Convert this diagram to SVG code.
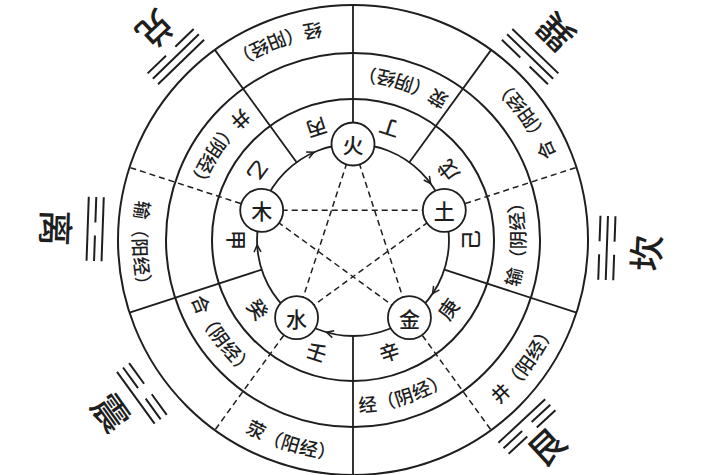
<svg xmlns="http://www.w3.org/2000/svg" width="713" height="475" viewBox="0 0 713 475">
<style>
.ln{stroke:#1e1e1e;stroke-width:1.8;fill:none}
.ring{stroke:#1e1e1e;stroke-width:2;fill:none}
.dash{stroke:#1e1e1e;stroke-width:1.5;stroke-dasharray:6 4;fill:none}
.tg{stroke:#1e1e1e;stroke-width:2;fill:none}
.t{font-family:"Noto Sans CJK SC","Noto Sans",sans-serif;fill:#1e1e1e;font-weight:500}
.el{font-size:21px;text-anchor:middle;dominant-baseline:central}
.st{font-size:20px;text-anchor:middle;dominant-baseline:central}
.rt{font-size:18.5px;dominant-baseline:central}
.gua{font-size:36px;text-anchor:middle;dominant-baseline:central}
.node{fill:#fff;stroke:#1e1e1e;stroke-width:1.8}
.ah{stroke:#1e1e1e;stroke-width:1.5;fill:none}
</style>
<defs>
<path id="ah" d="M-7,-3.5 L0,0 L-7,3.5"/>
<path id="m1" d="M350.14,76.02 A164,164 0 0 0 199.89,298.77"/>
<path id="m2" d="M509.83,192.05 A164,164 0 0 0 254.30,109.02"/>
<path id="m3" d="M447.07,374.34 A164,164 0 0 0 447.07,105.66"/>
<path id="m4" d="M254.30,370.98 A164,164 0 0 0 509.83,287.95"/>
<path id="m5" d="M197.93,186.61 A164,164 0 0 0 355.86,403.98"/>
<path id="o1" d="M471.55,64.24 A212,212 0 0 0 147.30,188.71"/>
<path id="o2" d="M552.21,312.51 A212,212 0 0 0 353,28"/>
<path id="o3" d="M349.30,451.97 A212,212 0 0 0 553.45,170.98"/>
<path id="o4" d="M151.37,305.51 A212,212 0 0 0 483.52,407.06"/>
<path id="o5" d="M225.41,70.69 A212,212 0 0 0 237.54,417.80"/>
</defs>
<rect width="713" height="475" fill="#fff"/>

<g id="rings">
<circle class="ring" cx="353" cy="240" r="235"/>
<circle class="ring" cx="353" cy="240" r="187"/>
<circle class="ring" cx="353" cy="240" r="141"/>
<circle class="ln" cx="353" cy="240" r="96"/>
</g>

<g id="connectors">
<path class="ln" d="M296.57,162.34 L214.87,49.88"/>
<path class="ln" d="M409.43,162.34 L491.13,49.88"/>
<path class="ln" d="M444.31,269.66 L576.51,312.62"/>
<path class="ln" d="M353,336 L353,475"/>
<path class="ln" d="M261.69,269.66 L129.49,312.62"/>
<path class="ln" d="M353,122 L353,5"/>
<path class="dash" d="M240.77,203.54 L129.49,167.38"/>
<path class="dash" d="M465.23,203.54 L576.51,167.38"/>
<path class="dash" d="M422.36,335.46 L491.13,430.12"/>
<path class="dash" d="M283.64,335.46 L214.87,430.12"/>
<path class="dash" d="M353,144 L409.43,317.66"/>
<path class="dash" d="M353,144 L296.57,317.66"/>
<path class="dash" d="M261.69,210.34 L444.31,210.34"/>
<path class="dash" d="M261.69,210.34 L409.43,317.66"/>
<path class="dash" d="M444.31,210.34 L296.57,317.66"/>
<use href="#ah" class="ah" transform="translate(313.95,152.30) rotate(-24)"/>
<use href="#ah" class="ah" transform="translate(430.67,183.57) rotate(54)"/>
<use href="#ah" class="ah" transform="translate(432.59,293.68) rotate(124)"/>
<use href="#ah" class="ah" transform="translate(326.54,332.28) rotate(196)"/>
<use href="#ah" class="ah" transform="translate(257.13,245.02) rotate(267)"/>
</g>

<g id="node-huo"><circle class="node" cx="353" cy="144" r="21.5"/><text class="t el" x="353" y="144">火</text></g>
<g id="node-tu"><circle class="node" cx="444.31" cy="210.34" r="21.5"/><text class="t el" x="444.31" y="210.34">土</text></g>
<g id="node-jin"><circle class="node" cx="409.43" cy="317.66" r="21.5"/><text class="t el" x="409.43" y="317.66">金</text></g>
<g id="node-shui"><circle class="node" cx="296.57" cy="317.66" r="21.5"/><text class="t el" x="296.57" y="317.66">水</text></g>
<g id="node-mu"><circle class="node" cx="261.69" cy="210.34" r="21.5"/><text class="t el" x="261.69" y="210.34">木</text></g>

<g id="stems">
<text class="t st" transform="translate(316.85,128.72) rotate(162)">丙</text>
<text class="t st" transform="translate(389.15,128.72) rotate(198)">丁</text>
<text class="t st" transform="translate(447.65,171.23) rotate(-126)">戊</text>
<text class="t st" transform="translate(470,240) rotate(-90)">己</text>
<text class="t st" transform="translate(447.65,308.77) rotate(-54)">庚</text>
<text class="t st" transform="translate(389.15,351.28) rotate(-18)">辛</text>
<text class="t st" transform="translate(316.85,351.28) rotate(18)">壬</text>
<text class="t st" transform="translate(258.35,308.77) rotate(54)">癸</text>
<text class="t st" transform="translate(236,240) rotate(90)">甲</text>
<text class="t st" transform="translate(258.35,171.23) rotate(126)">乙</text>
</g>

<g id="yin-ring">
<text class="t rt"><textPath href="#m1" startOffset="50%" text-anchor="middle">井（阴经）</textPath></text>
<text class="t rt"><textPath href="#m2" startOffset="50%" text-anchor="middle">荥（阴经）</textPath></text>
<text class="t rt"><textPath href="#m3" startOffset="50%" text-anchor="middle">输（阴经）</textPath></text>
<text class="t rt"><textPath href="#m4" startOffset="50%" text-anchor="middle">经（阴经）</textPath></text>
<text class="t rt"><textPath href="#m5" startOffset="50%" text-anchor="middle">合（阴经）</textPath></text>
</g>

<g id="yang-ring">
<text class="t rt"><textPath href="#o1" startOffset="50%" text-anchor="middle">经（阳经）</textPath></text>
<text class="t rt"><textPath href="#o2" startOffset="50%" text-anchor="middle">合（阳经）</textPath></text>
<text class="t rt"><textPath href="#o3" startOffset="50%" text-anchor="middle">井（阳经）</textPath></text>
<text class="t rt"><textPath href="#o4" startOffset="50%" text-anchor="middle">荥（阳经）</textPath></text>
<text class="t rt"><textPath href="#o5" startOffset="50%" text-anchor="middle">输（阳经）</textPath></text>
</g>

<g id="trigram-dui">
<g transform="translate(175.86,56.57) rotate(-44)"><path class="tg" d="M-32,-7.5 H-6.5 M6.5,-7.5 H32 M-32,0 H32 M-32,7.5 H32"/></g>
<text class="t gua" transform="translate(157,31) rotate(137)">兑</text>
</g>
<g id="trigram-xun">
<g transform="translate(530.14,56.57) rotate(44)"><path class="tg" d="M-32,-7.5 H32 M-32,0 H32 M-32,7.5 H-6.5 M6.5,7.5 H32"/></g>
<text class="t gua" transform="translate(554,34) rotate(-135.4)">巽</text>
</g>
<g id="trigram-li">
<g transform="translate(95.16,229) rotate(272)"><path class="tg" d="M-32,-7.5 H32 M-32,0 H-6.5 M6.5,0 H32 M-32,7.5 H32"/></g>
<text class="t gua" transform="translate(58,228) rotate(92)">离</text>
</g>
<g id="trigram-kan">
<g transform="translate(606.85,248) rotate(92)"><path class="tg" d="M-32,-7.5 H-6.5 M6.5,-7.5 H32 M-32,0 H32 M-32,7.5 H-6.5 M6.5,7.5 H32"/></g>
<text class="t gua" transform="translate(644,253) rotate(-87.2)">坎</text>
</g>
<g id="trigram-zhen">
<g transform="translate(141.85,393.41) rotate(234)"><path class="tg" d="M-32,-7.5 H32 M-32,0 H-6.5 M6.5,0 H32 M-32,7.5 H-6.5 M6.5,7.5 H32"/></g>
<text class="t gua" transform="translate(113,411) rotate(54.4)">震</text>
</g>
<g id="trigram-gen">
<g transform="translate(526.91,426.49) rotate(137)"><path class="tg" d="M-32,-7.5 H-6.5 M6.5,-7.5 H32 M-32,0 H-6.5 M6.5,0 H32 M-32,7.5 H32"/></g>
<text class="t gua" transform="translate(545,445) rotate(-42.8)">艮</text>
</g>
</svg>
